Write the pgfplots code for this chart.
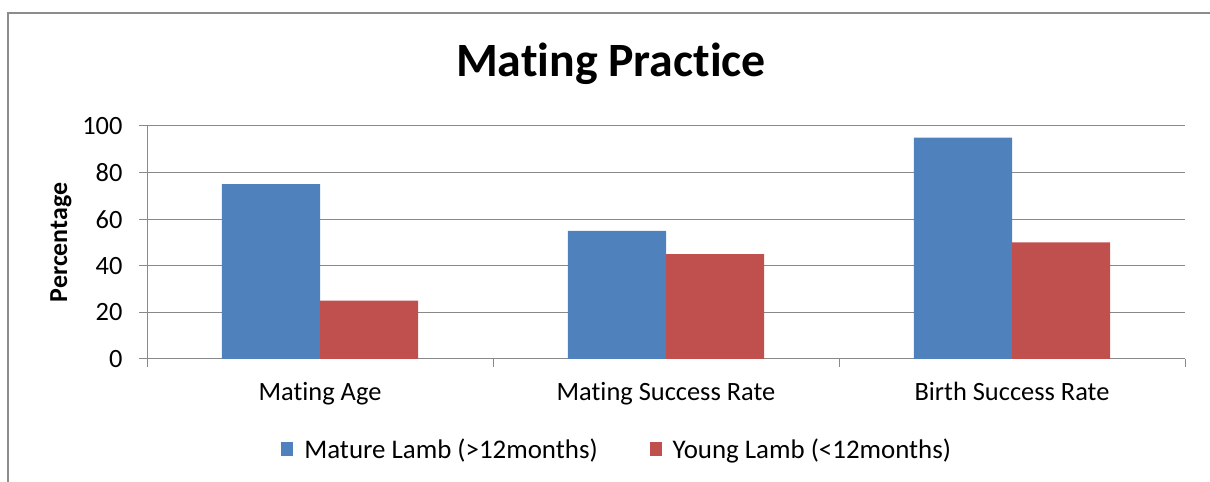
\documentclass[border=0pt]{standalone}
\usepackage{pgfplots}
\pgfplotsset{compat=1.18}
\usepackage{fontspec}
\setmainfont{Carlito}[Ligatures=NoCommon]
\definecolor{barblue}{HTML}{4F81BD}
\definecolor{barred}{HTML}{C0504D}
\definecolor{gridgray}{HTML}{898989}
\definecolor{framegray}{HTML}{8C8C8C}
\begin{document}
\begin{tikzpicture}[x=1bp,y=1bp]
\useasboundingbox (0,0) rectangle (1210,482);
\draw[framegray, line width=1.5bp] (8,0) -- (8,469) -- (1210,469);
\begin{axis}[
  at={(147bp,123bp)}, anchor=south west,
  scale only axis, width=1038bp, height=233bp,
  xmin=0, xmax=3, ymin=0, ymax=100,
  ytick={0,20,...,100},
  ymajorgrids, grid style={gridgray, line width=1bp},
  axis x line*=bottom, axis y line*=left,
  axis line style={gridgray, line width=1bp, -},
  xtick={0,1,2,3}, xticklabels={},
  extra x ticks={0.5,1.5,2.5},
  extra x tick labels={Mating Age, Mating Success Rate, Birth Success Rate},
  extra x tick style={major tick length=0pt, grid=none},
  tick align=outside, major tick length=8bp,
  tick style={gridgray, line width=1bp},
  /pgf/number format/assume math mode=true,
  tick label style={font=\fontsize{26.5}{30}\selectfont, text=black},
  yticklabel style={xshift=-13bp},
  xticklabel style={yshift=-20bp},
  ylabel={\bfseries Percentage},
  ylabel style={font=\fontsize{26}{30}\selectfont, at={(axis description cs:-0.0829,0.5)}, anchor=center, rotate=0},
  title={\bfseries Mating Practice},
  title style={font=\fontsize{48}{54}\selectfont, at={(axis description cs:0.447,1)}, anchor=base, yshift=44bp},
  ybar=0pt, bar width=98bp,
  legend columns=2,
  legend style={at={(axis description cs:0.453,-0.386)}, anchor=center, draw=none, fill=none,
    font=\fontsize{27}{30}\selectfont,
    /tikz/every odd column/.append style={column sep=9bp},
    /tikz/every even column/.append style={column sep=50bp}},
  legend image code/.code={\draw[#1,draw=none] (0bp,-7bp) rectangle (12bp,7bp);},
]
\addplot[fill=barblue, draw=none] coordinates {(0.5,75) (1.5,55) (2.5,95)};
\addplot[fill=barred, draw=none] coordinates {(0.5,25) (1.5,45) (2.5,50)};
\legend{Mature Lamb (>12months), Young Lamb (<12months)}
\end{axis}
\end{tikzpicture}
\end{document}
